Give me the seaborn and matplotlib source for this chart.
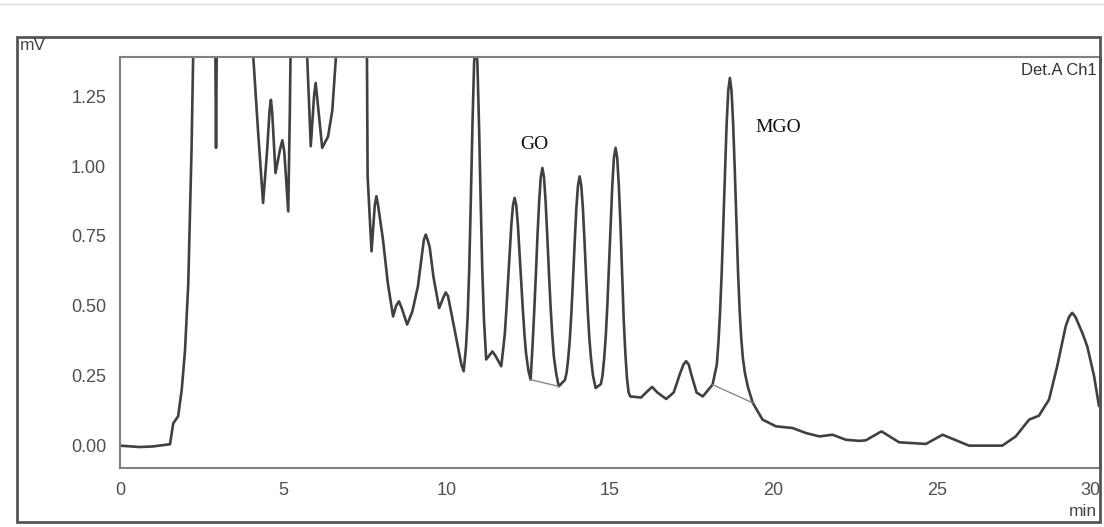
import matplotlib
matplotlib.use("Agg")
import matplotlib.pyplot as plt
from matplotlib.patches import Rectangle
from matplotlib.lines import Line2D
from matplotlib.ticker import MultipleLocator
import seaborn as sns
import pandas as pd

# ---- data (time in min, signal in mV) ----
time_min = [0.0, 0.6, 1.0, 1.53, 1.63, 1.78, 1.89, 1.99, 2.09, 2.19, 2.24, 2.30,
            2.88, 2.92, 2.94, 2.96, 3.0, 4.0, 4.08, 4.23, 4.38, 4.50, 4.58, 4.62, 4.66, 4.76,
            4.90, 4.97, 5.03, 5.15, 5.20, 5.22, 5.26, 5.68, 5.73, 5.84, 5.94, 5.99, 6.04, 6.19,
            6.37, 6.50, 6.61, 6.66, 7.50, 7.56, 7.58, 7.70, 7.80, 7.85, 7.90, 8.05, 8.20,
            8.36, 8.45, 8.54, 8.63, 8.79, 8.95, 9.12, 9.25, 9.30, 9.36, 9.42, 9.48, 9.60,
            9.77, 9.90, 9.97, 10.04, 10.10, 10.30, 10.45, 10.52,
            10.59, 10.64, 10.69, 10.74, 10.79, 10.84, 10.89, 10.94, 10.99, 11.04, 11.09,
            11.14, 11.21, 11.32, 11.40, 11.50, 11.67,
            11.73, 11.78, 11.83, 11.88, 11.93, 11.98, 12.03, 12.08, 12.13, 12.18, 12.23,
            12.28, 12.33, 12.38, 12.43, 12.50, 12.57,
            12.63, 12.68, 12.73, 12.78, 12.83, 12.88, 12.93, 12.98, 13.03, 13.08, 13.13,
            13.18, 13.23, 13.28, 13.35, 13.43,
            13.62, 13.67, 13.72, 13.77, 13.82, 13.87, 13.92, 13.97, 14.02, 14.07, 14.12,
            14.17, 14.22, 14.27, 14.32, 14.37, 14.42, 14.48, 14.56,
            14.72, 14.77, 14.82, 14.87, 14.92, 14.97, 15.02, 15.07, 15.12, 15.17, 15.22,
            15.27, 15.32, 15.37, 15.42, 15.47, 15.52, 15.57, 15.62,
            15.95, 16.15, 16.29, 16.45, 16.72, 16.95, 17.15, 17.25, 17.33, 17.41, 17.50,
            17.65, 17.84, 18.14,
            18.27, 18.32, 18.37, 18.42, 18.47, 18.52, 18.57, 18.62, 18.67, 18.72, 18.77,
            18.82, 18.87, 18.92, 18.97, 19.02, 19.07, 19.13, 19.22, 19.37,
            19.67, 20.08, 20.59, 21.0, 21.41, 21.81, 22.22, 22.63, 22.83, 23.31, 23.85,
            24.67, 25.18, 25.99, 27.01, 27.42, 27.83, 28.13, 28.44, 28.69, 28.95, 29.05,
            29.15, 29.25, 29.46, 29.61, 29.82, 29.97]
signal_mv = [0.00, -0.005, -0.003, 0.005, 0.08, 0.105, 0.20, 0.34, 0.58, 1.06, 1.39, 1.8,
             1.8, 1.4, 1.065, 1.4, 1.8, 1.8, 1.39, 1.118, 0.868, 1.05, 1.20, 1.237, 1.19, 0.975,
             1.06, 1.092, 1.05, 0.838, 1.2, 1.39, 1.8, 1.8, 1.39, 1.071, 1.25, 1.297, 1.24, 1.065,
             1.106, 1.20, 1.39, 1.8, 1.8, 1.39, 0.963, 0.695, 0.86, 0.892, 0.86, 0.737, 0.58,
             0.462, 0.50, 0.516, 0.49, 0.433, 0.48, 0.57, 0.69, 0.735, 0.755, 0.735, 0.71, 0.60,
             0.492, 0.53, 0.548, 0.535, 0.50, 0.379, 0.29, 0.266,
             0.35, 0.455, 0.63, 0.88, 1.15, 1.37, 1.45, 1.37, 1.15, 0.88, 0.63,
             0.455, 0.308, 0.325, 0.337, 0.32, 0.284,
             0.345, 0.40, 0.49, 0.59, 0.69, 0.79, 0.86, 0.886, 0.86, 0.79, 0.69,
             0.59, 0.49, 0.40, 0.33, 0.27, 0.236,
             0.36, 0.48, 0.61, 0.75, 0.87, 0.96, 0.993, 0.96, 0.87, 0.75, 0.62,
             0.50, 0.40, 0.32, 0.26, 0.212,
             0.235, 0.26, 0.31, 0.38, 0.48, 0.60, 0.73, 0.85, 0.93, 0.963, 0.93,
             0.85, 0.73, 0.60, 0.48, 0.38, 0.31, 0.25, 0.206,
             0.22, 0.25, 0.31, 0.39, 0.505, 0.645, 0.79, 0.93, 1.03, 1.065, 1.03,
             0.93, 0.79, 0.62, 0.45, 0.33, 0.24, 0.19, 0.176,
             0.172, 0.195, 0.21, 0.19, 0.167, 0.19, 0.26, 0.29, 0.302, 0.29, 0.25,
             0.19, 0.176, 0.218,
             0.29, 0.37, 0.48, 0.62, 0.80, 0.985, 1.15, 1.27, 1.315, 1.27, 1.15,
             0.985, 0.80, 0.62, 0.48, 0.38, 0.31, 0.26, 0.21, 0.153,
             0.093, 0.069, 0.063, 0.045, 0.033, 0.039, 0.021, 0.017, 0.019, 0.051, 0.012,
             0.006, 0.039, 0.0, 0.0, 0.033, 0.093, 0.107, 0.165, 0.284, 0.427, 0.46,
             0.475, 0.46, 0.403, 0.355, 0.248, 0.141]

# integration baselines (drop lines) under GO and MGO
go_base_t = [12.57, 13.43]
go_base_v = [0.236, 0.212]
mgo_base_t = [18.14, 19.37]
mgo_base_v = [0.218, 0.153]

peak_labels = ["GO", "MGO"]
peak_label_t = [12.69, 20.15]
peak_label_v = [1.077, 1.137]

x_ticks = [0, 5, 10, 15, 20, 25, 30]
y_ticks = [0.00, 0.25, 0.50, 0.75, 1.00, 1.25]

# ---- figure ----
sns.set_style("white")
plt.rcParams['font.family'] = ['Liberation Sans', 'DejaVu Sans']

fig = plt.figure(figsize=(11.04, 5.27), dpi=100)
ax = fig.add_axes([120/1104, 1 - 468/527, 980/1104, 411/527])

df = pd.DataFrame({"t": time_min, "v": signal_mv})
sns.lineplot(data=df, x="t", y="v", ax=ax, color="#404040", linewidth=1.9,
             estimator=None, sort=False)
sns.lineplot(x=go_base_t, y=go_base_v, ax=ax, color="#8a8a8a", linewidth=1.0, estimator=None)
sns.lineplot(x=mgo_base_t, y=mgo_base_v, ax=ax, color="#8a8a8a", linewidth=1.0, estimator=None)

for lab, lt, lv in zip(peak_labels, peak_label_t, peak_label_v):
    ax.text(lt, lv, lab, family="Liberation Serif", fontsize=14, color="#111111",
            ha="center", va="center")

ax.set_xlim(0, 30.0)
ax.set_ylim(-0.08, 1.39)
ax.set_xticks(x_ticks)
ax.set_xticklabels([str(x) for x in x_ticks])
ax.set_yticks(y_ticks)
ax.set_yticklabels([f"{y:.2f}" for y in y_ticks])
ax.xaxis.set_minor_locator(MultipleLocator(1))
ax.yaxis.set_minor_locator(MultipleLocator(0.05))
ax.tick_params(axis="both", which="major", direction="out", length=6, width=1,
               colors="#777777", labelcolor="#505050", labelsize=13, pad=4)
ax.tick_params(axis="both", which="minor", direction="out", length=3, width=1,
               colors="#777777")
ax.get_xticklabels()[-1].set_horizontalalignment("right")
ax.set_xlabel("")
ax.set_ylabel("")
for side in ["left", "bottom", "top"]:
    ax.spines[side].set_color("#808080")
    ax.spines[side].set_linewidth(1.5)
ax.spines["right"].set_color("#555555")
ax.spines["right"].set_linewidth(2)

ax.text(0.997, 0.985, "Det.A Ch1", transform=ax.transAxes, ha="right", va="top",
        fontsize=12, color="#333333")

# outer frame of the instrument printout
fig.add_artist(Rectangle((17/1104, 1 - 522/527), 1083/1104, 485/527, fill=False,
                         edgecolor="#555555", linewidth=2, transform=fig.transFigure))
fig.add_artist(Line2D([0, 1], [1 - 4/527, 1 - 4/527], color="#dddddd", linewidth=1,
                      transform=fig.transFigure))
fig.text(20/1104, 1 - 45/527, "mV", fontsize=12.5, color="#444444", va="center", ha="left")
fig.text(1097/1104, 1 - 512/527, "min", fontsize=12.5, color="#444444", va="center", ha="right")

fig.savefig("out.png", dpi=100)
